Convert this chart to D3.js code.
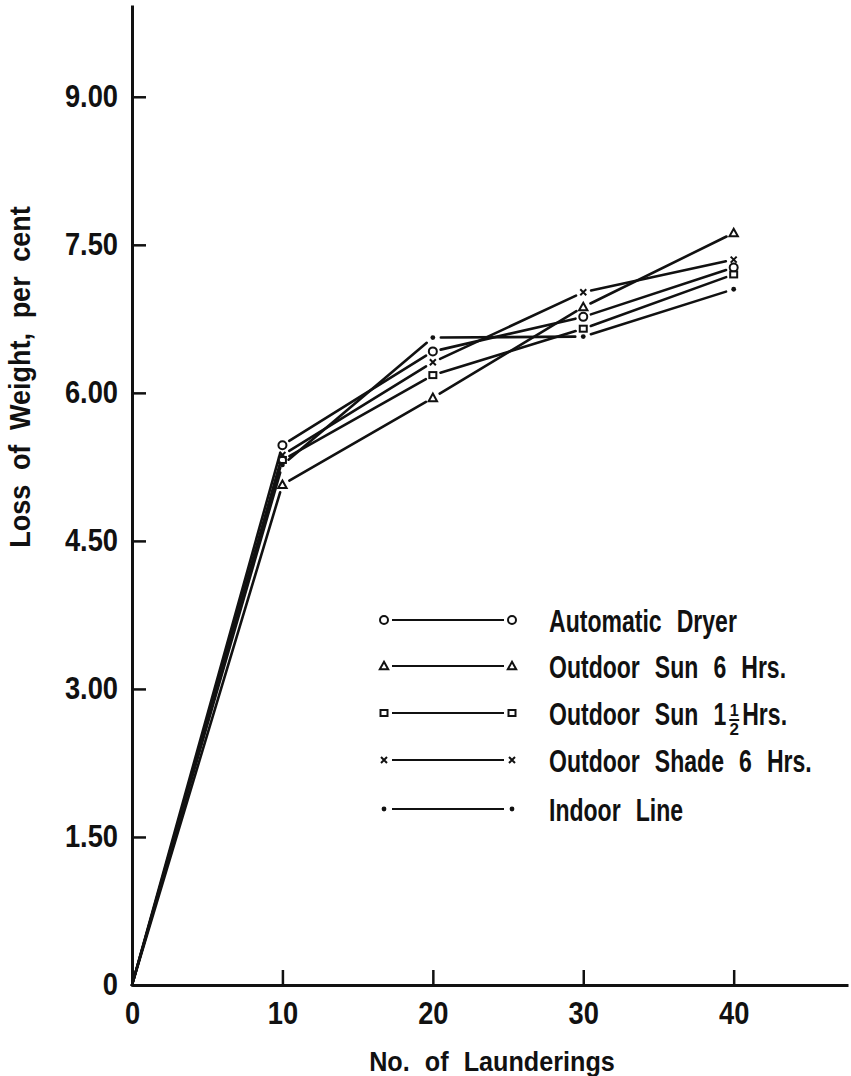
<!DOCTYPE html>
<html>
<head>
<meta charset="utf-8">
<script src="https://cdn.jsdelivr.net/npm/d3@7"></script>
<style>
  html, body { margin: 0; padding: 0; background: #fff; }
  svg { display: block; }
  .lbl { font-family: "Liberation Sans", Arial, sans-serif; fill: #111; }
</style>
</head>
<body>
<script>
// Number of launderings
const launderings = [0, 10, 20, 30, 40];

// Loss of weight (per cent) for each drying method
const automaticDryer = [0, 5.47, 6.42, 6.77, 7.27];
const outdoorSun6 = [0, 5.07, 5.95, 6.87, 7.62];
const outdoorSun15 = [0, 5.32, 6.18, 6.65, 7.20];
const outdoorShade6 = [0, 5.37, 6.31, 7.02, 7.35];
const indoorLine = [0, 5.27, 6.56, 6.57, 7.05];

const yTicks = [0, 1.5, 3, 4.5, 6, 7.5, 9];
const yTickLabels = ["0", "1.50", "3.00", "4.50", "6.00", "7.50", "9.00"];
const xTicks = [0, 10, 20, 30, 40];

const seriesNames = ["Automatic Dryer", "Outdoor Sun 6 Hrs.", "Outdoor Sun 1\u00BD Hrs.", "Outdoor Shade 6 Hrs.", "Indoor Line"];
const seriesValues = [automaticDryer, outdoorSun6, outdoorSun15, outdoorShade6, indoorLine];
const seriesSymbols = ["circle", "triangle", "square", "cross", "dot"];

const W = 851, H = 1076;
const INK = "#111";
const svg = d3.select("body").append("svg").attr("width", W).attr("height", H);

const x = d3.scaleLinear().domain([0, 47.6]).range([132, 848]);
const y = d3.scaleLinear().domain([0, 9.93]).range([985, 5]);

// Text squeezed horizontally to mimic a condensed lettering face
function condensed(parent, o) {
  const t = parent.append("text").attr("class", "lbl")
    .attr("transform", `translate(${o.x},${o.y})${o.rotate ? ` rotate(${o.rotate})` : ""} scale(${o.sx},1)`)
    .attr("text-anchor", o.anchor || "start")
    .style("font-size", o.size + "px")
    .style("font-weight", o.weight || "normal")
    .style("word-spacing", (o.ws || 0) + "px")
    .text(o.text);
  return { node: t, width: t.node().getComputedTextLength() * o.sx };
}

// Axes: ticks point into the plot
const yAxis = d3.axisLeft(y).tickValues(yTicks)
  .tickFormat((d, i) => yTickLabels[i])
  .tickSizeInner(-14).tickSizeOuter(0).tickPadding(14);
const xAxis = d3.axisBottom(x).tickValues(xTicks)
  .tickSizeInner(-15).tickSizeOuter(0).tickPadding(17);

const gy = svg.append("g").attr("transform", `translate(${x(0)},0)`).call(yAxis);
const gx = svg.append("g").attr("transform", `translate(0,${y(0)})`).call(xAxis);

const tickSx = 0.88;
[gy, gx].forEach(g => {
  g.select(".domain").attr("stroke", INK).attr("stroke-width", 3);
  g.selectAll(".tick line").attr("stroke", INK).attr("stroke-width", 2.5);
  g.selectAll(".tick text").attr("class", "lbl").attr("fill", INK)
    .style("font-size", "31px").style("font-weight", "bold")
    .each(function () {
      const el = d3.select(this);
      const tx = +el.attr("x") || 0;
      el.attr("x", tx / tickSx).attr("transform", `scale(${tickSx},1)`);
    });
});

// Axis titles
condensed(svg, { x: 30, y: 377, rotate: -90, sx: 0.9, size: 30, weight: "bold",
  anchor: "middle", ws: 8, text: "Loss of Weight, per cent" });
condensed(svg, { x: 492, y: 1071, sx: 0.9, size: 28, weight: "bold",
  anchor: "middle", ws: 9, text: "No. of Launderings" });

// Marker drawing
function drawMarker(g, type, cx, cy) {
  if (type === "circle") {
    g.append("circle").attr("cx", cx).attr("cy", cy).attr("r", 4)
      .attr("fill", "#fff").attr("stroke", INK).attr("stroke-width", 2);
  } else if (type === "triangle") {
    const r = 4.2;
    g.append("path").attr("d", `M${cx},${cy - r}L${cx + r},${cy + r * 0.8}L${cx - r},${cy + r * 0.8}Z`)
      .attr("fill", "#fff").attr("stroke", INK).attr("stroke-width", 2);
  } else if (type === "square") {
    g.append("rect").attr("x", cx - 3.5).attr("y", cy - 3).attr("width", 7).attr("height", 6)
      .attr("fill", "#fff").attr("stroke", INK).attr("stroke-width", 2);
  } else if (type === "cross") {
    const r = 3;
    g.append("path").attr("d", `M${cx - r},${cy - r}L${cx + r},${cy + r}M${cx + r},${cy - r}L${cx - r},${cy + r}`)
      .attr("stroke", INK).attr("stroke-width", 2);
  } else {
    g.append("circle").attr("cx", cx).attr("cy", cy).attr("r", 2.4).attr("fill", INK);
  }
}

// Segment shortened at its ends so it stops short of the markers
function trimmed(p0, p1, g0, g1) {
  const dx = p1[0] - p0[0], dy = p1[1] - p0[1];
  const len = Math.hypot(dx, dy);
  const ux = dx / len, uy = dy / len;
  return [[p0[0] + ux * g0, p0[1] + uy * g0], [p1[0] - ux * g1, p1[1] - uy * g1]];
}

const plot = svg.append("g");
const line = d3.line();
seriesValues.forEach((vals, si) => {
  const pts = vals.map((v, i) => [x(launderings[i]), y(v)]);
  for (let i = 0; i < pts.length - 1; i++) {
    const g0 = i === 0 ? 0 : 8;
    plot.append("path").attr("d", line(trimmed(pts[i], pts[i + 1], g0, 8)))
      .attr("fill", "none").attr("stroke", INK).attr("stroke-width", 2.6)
      .attr("stroke-linecap", "round");
  }
  pts.slice(1).forEach(p => drawMarker(plot, seriesSymbols[si], p[0], p[1]));
});

// Legend
const legend = svg.append("g");
const legendRows = [620, 666, 713, 760, 809];
const legSx = 0.72, legSize = 32, legWs = 12, legX = 549;
seriesNames.forEach((name, i) => {
  const ly = legendRows[i];
  legend.append("line").attr("x1", 392).attr("x2", 504).attr("y1", ly).attr("y2", ly)
    .attr("stroke", INK).attr("stroke-width", 2);
  drawMarker(legend, seriesSymbols[i], 384, ly);
  drawMarker(legend, seriesSymbols[i], 512, ly);
  const baseY = ly + 12;
  const common = { sx: legSx, size: legSize, ws: legWs, weight: "bold" };
  if (name.includes("\u00BD")) {
    // whole number followed by a stacked one-half
    const [pre, post] = name.split("\u00BD");
    const a = condensed(legend, { ...common, x: legX, y: baseY, text: pre });
    const fx = legX + a.width + 8;
    condensed(legend, { x: fx, y: baseY - 9, sx: 1, size: 16, weight: "bold", anchor: "middle", text: "1" });
    legend.append("line").attr("x1", fx - 5).attr("x2", fx + 5).attr("y1", baseY - 5).attr("y2", baseY - 5)
      .attr("stroke", INK).attr("stroke-width", 2);
    condensed(legend, { x: fx, y: baseY + 10, sx: 1, size: 17, weight: "bold", anchor: "middle", text: "2" });
    condensed(legend, { ...common, x: fx + 8, y: baseY, text: post.trim() });
  } else {
    condensed(legend, { ...common, x: legX, y: baseY, text: name });
  }
});
</script>
</body>
</html>
